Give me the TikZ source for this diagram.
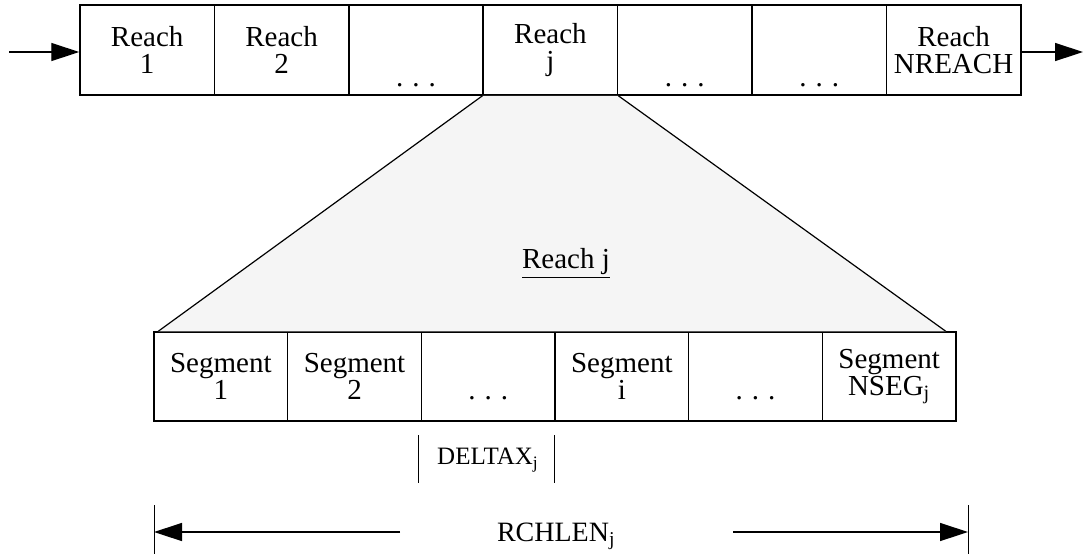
\documentclass[tikz,border=0pt]{standalone}
\usepackage{fontspec}
\setmainfont{Liberation Serif}
\usetikzlibrary{positioning,calc,arrows.meta}

\newcommand{\lowdots}[1]{\raisebox{-#1}[0pt][0pt]{.\hspace{4.5pt}.\hspace{4.5pt}.}}

\begin{document}
\begin{tikzpicture}[x=0.5pt,y=-0.5pt,
    reach/.style={draw, line width=0.75pt, minimum width=67.2pt, minimum height=45pt,
                  inner sep=0pt, align=center, font=\fontsize{14.5}{13.5}\selectfont},
    seg/.style={reach, minimum width=66.83pt, minimum height=44.5pt},
    flow/.style={line width=0.7pt, -{Triangle[length=14pt,width=9pt]}},
    tick/.style={line width=0.5pt}]
    \useasboundingbox (0,0) rectangle (1083,554);

    % top row of reaches
    \foreach \k/\txt in {1/{Reach\\1},2/{Reach\\2},3/{\lowdots{18pt}},4/{Reach\\j},
                         5/{\lowdots{18pt}},6/{\lowdots{18pt}},7/{Reach\\NREACH}}
        \node[reach] (r\k) at ({80+134.4*(\k-0.5)},50) {\txt};
    \coordinate (in) at (9,52);
    \coordinate (out) at (1083,52);
    \draw[flow] (in) -- (r1.west |- in);
    \draw[flow] (r7.east |- out) -- (out);

    % segments of reach j
    \foreach \k/\txt in {1/{Segment\\1},2/{Segment\\2},3/{\lowdots{11.5pt}},4/{Segment\\i},
                         5/{\lowdots{11.5pt}},6/{Segment\\NSEG\textsubscript{j}}}
        \node[seg] (s\k) at ({154+133.67*(\k-0.5)},376.5) {\txt};

    % zoom from reach j
    \coordinate (tl) at ($(s1.north west)+(5,0)$);
    \coordinate (tr) at ($(s6.north east)+(-11,0)$);
    \fill[gray!8] (r4.south west) -- (r4.south east) -- (tr) -- (tl) -- cycle;
    \draw[line width=0.6pt] (r4.south west) -- (tl);
    \draw[line width=0.6pt] (r4.south east) -- (tr);
    \node[anchor=base, font=\fontsize{14.5}{13.5}\selectfont] (zoomlbl) at (566,268) {\underline{Reach j}};

    % segment length
    \coordinate (dxa) at (418,435);
    \coordinate (dxb) at (554,435);
    \draw[tick] (dxa) -- ++(0,48);
    \draw[tick] (dxb) -- ++(0,48);
    \node[font=\fontsize{12.5}{14}\selectfont] (deltax) at (488,460) {DELTAX\textsubscript{j}};

    % reach length
    \coordinate (lbar) at (154,505);
    \coordinate (rbar) at (968,505);
    \draw[tick] (lbar) -- ++(0,49);
    \draw[tick] (rbar) -- ++(0,49);
    \node[anchor=base west, font=\fontsize{14}{14}\selectfont] (rchlen) at (490,541) {RCHLEN\textsubscript{j}};
    \coordinate (la) at (400,532);
    \coordinate (ra) at (733,532);
    \draw[flow] (la) -- (lbar |- la);
    \draw[flow] (ra) -- (rbar |- ra);
\end{tikzpicture}
\end{document}
